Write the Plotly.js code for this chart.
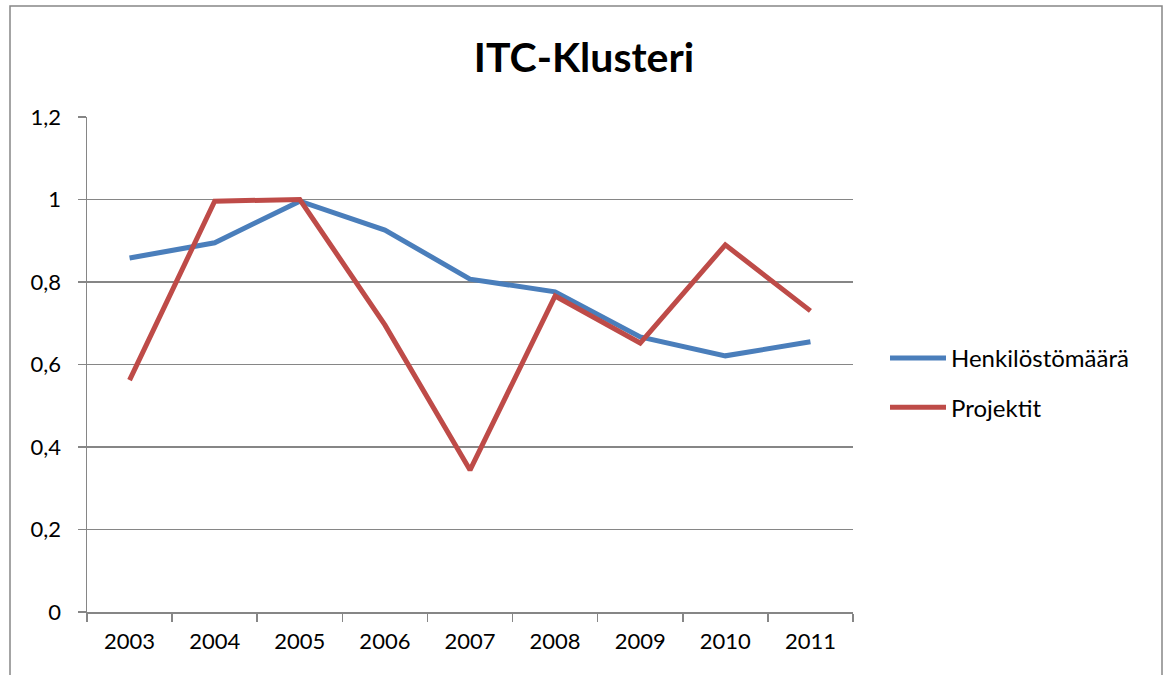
<!DOCTYPE html>
<html>
<head>
<meta charset="utf-8">
<script src="https://cdn.plot.ly/plotly-3.0.1.min.js"></script>
<style>html,body{margin:0;padding:0;background:#fff;}#chart{width:1166px;height:675px;}</style>
</head>
<body>
<div id="chart"></div>
<script>
const years = ["2003","2004","2005","2006","2007","2008","2009","2010","2011"];
const henkilostomaara = [0.858, 0.895, 0.996, 0.926, 0.807, 0.776, 0.667, 0.621, 0.655];
const projektit = [0.562, 0.996, 1.0, 0.696, 0.344, 0.766, 0.652, 0.89, 0.73];
const yTicks = [0, 0.2, 0.4, 0.6, 0.8, 1, 1.2];

const L = 87, R = 853, T = 117, B = 612, W = 1166, H = 675;
const pw = R - L, ph = B - T;
const px = v => (v - L) / pw;
const py = v => (B - v) / ph;

const traces = [
  {x: years, y: henkilostomaara, name: "Henkilöstömäärä", type: "scatter", mode: "lines",
   line: {color: "#4A7EBB", width: 5}, legendgroup: "a"},
  {x: years, y: projektit, name: "Projektit", type: "scatter", mode: "lines",
   line: {color: "#BE4B48", width: 5}, legendgroup: "b"}
];

const layout = {
  width: W, height: H,
  margin: {l: L, r: W - R, t: T, b: H - B, pad: 0},
  paper_bgcolor: "#fff", plot_bgcolor: "#fff",
  separators: ", ",
  font: {family: "Lato, 'Open Sans', sans-serif", size: 22, color: "#000"},
  title: {text: "<b>ITC-Klusteri</b>", x: 584 / W, xanchor: "center", y: 1 - 58/H, yanchor: "middle",
          xref: "container", yref: "container", font: {size: 41, family: "Lato, sans-serif", color: "#000"}},
  xaxis: {type: "category", range: [-0.5, 8.5], showgrid: false, showline: true,
          linecolor: "#868686", linewidth: 1.5, ticks: "outside", tickson: "boundaries",
          ticklen: 8, tickcolor: "#868686", tickwidth: 1.5, ticklabelstandoff: 9,
          tickfont: {size: 22}, zeroline: false, fixedrange: true},
  yaxis: {range: [0, 1.2], tickvals: yTicks, showgrid: true, gridcolor: "#868686", gridwidth: 1.5,
          showline: true, linecolor: "#868686", linewidth: 1.5, ticks: "outside", ticklen: 8,
          tickcolor: "#868686", tickwidth: 1.5, ticklabelstandoff: 12, zeroline: false,
          tickfont: {size: 22}, fixedrange: true},
  showlegend: true,
  legend: {x: px(885), xanchor: "left", y: py(383), yanchor: "middle", tracegroupgap: 15,
           font: {size: 24}, bgcolor: "rgba(0,0,0,0)", itemwidth: 56},
  shapes: [
    {type: "rect", xref: "paper", yref: "paper", x0: px(10), x1: px(1162), y0: py(690), y1: py(6),
     line: {color: "#868686", width: 1.5}, fillcolor: "rgba(0,0,0,0)", layer: "below"}
  ]
};

Plotly.newPlot("chart", traces, layout, {displayModeBar: false, staticPlot: true});
</script>
</body>
</html>
